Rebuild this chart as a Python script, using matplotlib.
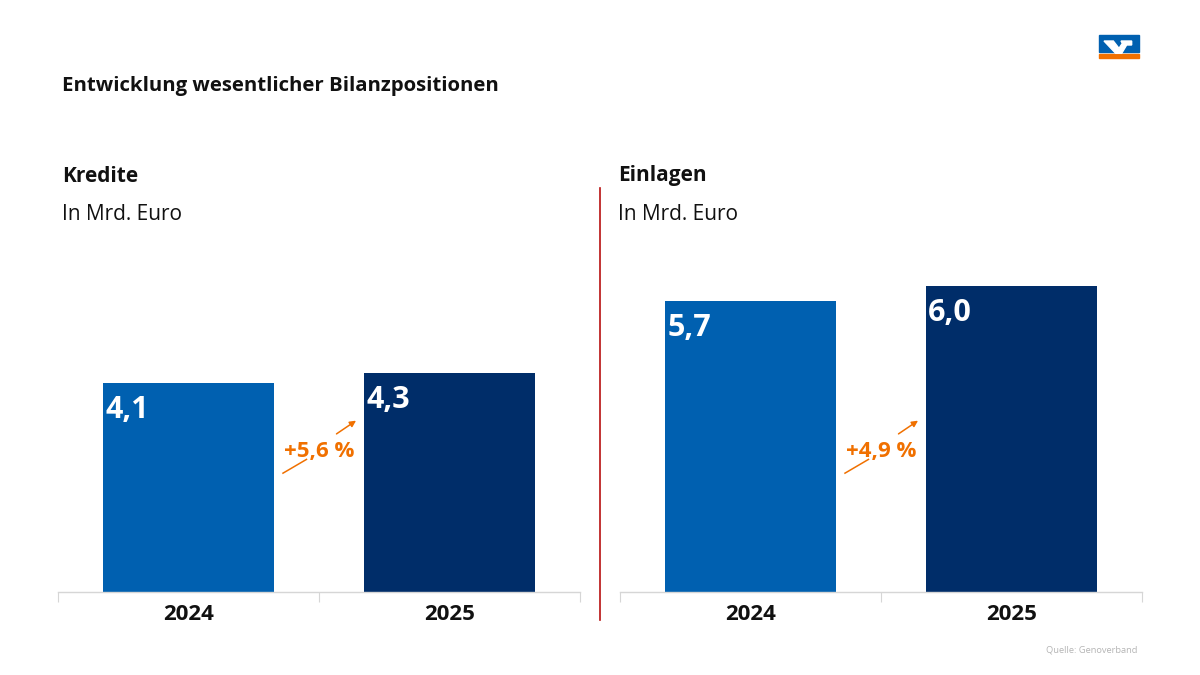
import matplotlib
matplotlib.use("Agg")
import matplotlib.pyplot as plt
from matplotlib.patches import Rectangle, Polygon

plt.rcParams['font.family'] = ['Open Sans', 'DejaVu Sans']

title = "Entwicklung wesentlicher Bilanzpositionen"
years = ["2024", "2025"]
panels = ["Kredite", "Einlagen"]
unit = "In Mrd. Euro"
kredite = [4.1, 4.3]
einlagen = [5.7, 6.0]
kredite_labels = ["4,1", "4,3"]
einlagen_labels = ["5,7", "6,0"]
changes = ["+5,6 %", "+4,9 %"]
source = "Quelle: Genoverband"

W, H = 1200, 675
fig = plt.figure(figsize=(12, 6.75), dpi=100)
fig.patch.set_facecolor("white")

def fx(px):
    return px / W

def fy(py):
    return 1 - py / H

bar_colors = ["#0060b0", "#002d69"]
orange = "#f07000"
ymax = 6.7
ax_h_px = ymax * 51.0
ax_w = 522 / W

axes = []
for i, (vals, labs, chg) in enumerate([(kredite, kredite_labels, changes[0]),
                                        (einlagen, einlagen_labels, changes[1])]):
    left_px = 58 if i == 0 else 620
    ax = fig.add_axes([fx(left_px), (H - 592) / H, ax_w, ax_h_px / H])
    ax.set_xlim(-0.5, 1.5)
    ax.set_ylim(0, ymax)
    x = list(range(len(years)))
    bw = 0.655
    ax.bar(x, vals, width=bw, color=bar_colors, zorder=2)
    for xi, v, lab in zip(x, vals, labs):
        ax.text(xi - bw / 2 + 0.008, v - 0.53, lab, ha="left", va="center",
                color="white", fontsize=22, fontweight="bold", zorder=3)
    for s in ["top", "right", "left"]:
        ax.spines[s].set_visible(False)
    ax.spines["bottom"].set_color("#d6d6d6")
    ax.spines["bottom"].set_linewidth(1.0)
    ax.set_yticks([])
    ax.set_xticks([-0.5, 0.5, 1.5], minor=False)
    ax.set_xticklabels([])
    ax.tick_params(axis="x", which="major", length=7, color="#d6d6d6", direction="out")
    ax.set_xticks(x, minor=True)
    ax.set_xticklabels(years, minor=True)
    ax.tick_params(axis="x", which="minor", length=0, pad=9, labelsize=16)
    for t in ax.get_xticklabels(minor=True):
        t.set_fontweight("bold")
        t.set_color("#111111")
    # change label and arrow
    ax.text(0.5, 2.76, chg, ha="center", va="center", color=orange,
            fontsize=16, fontweight="bold", zorder=3)
    ax.plot([0.362, 0.452], [2.33, 2.60], color=orange, lw=1.1, zorder=3)
    ax.annotate("", xy=(0.642, 3.36), xytext=(0.567, 3.10),
                arrowprops=dict(arrowstyle="-|>", color=orange, lw=1.1,
                                mutation_scale=9, shrinkA=0, shrinkB=0), zorder=3)
    axes.append(ax)

# Titles
fig.text(fx(62), fy(86), title, ha="left", va="center", fontsize=14.7,
         fontweight="bold", color="#111111")
for name, xp in zip(panels, [62, 618]):
    fig.text(fx(xp), fy(176), name, ha="left", va="center", fontsize=15,
             fontweight="bold", color="#111111")
    fig.text(fx(xp), fy(214), unit, ha="left", va="center", fontsize=15,
             color="#111111")

# Divider
fig.add_artist(plt.Line2D([fx(600), fx(600)], [fy(188), fy(620)],
                          color="#b81010", lw=1.2))

# Source
fig.text(fx(1137), fy(650), source, ha="right", va="center", fontsize=6.7,
         color="#b5b5b5")

# Logo
fig.add_artist(Rectangle((fx(1099), fy(52)), fx(40), 17 / H, color="#0060b0",
                         transform=fig.transFigure))
fig.add_artist(Rectangle((fx(1099), fy(58)), fx(40), 4 / H, color="#f07000",
                         transform=fig.transFigure))
pts = [(27, 33), (55, 33), (72, 55), (82, 40), (78, 33), (110, 33),
       (110, 45), (95, 45), (80, 70), (62, 70)]
poly = [(fx(1095 + px / 3), fy(30 + py / 3)) for px, py in pts]
fig.add_artist(Polygon(poly, closed=True, color="white", transform=fig.transFigure))

fig.savefig("out.png", dpi=100, facecolor="white")
